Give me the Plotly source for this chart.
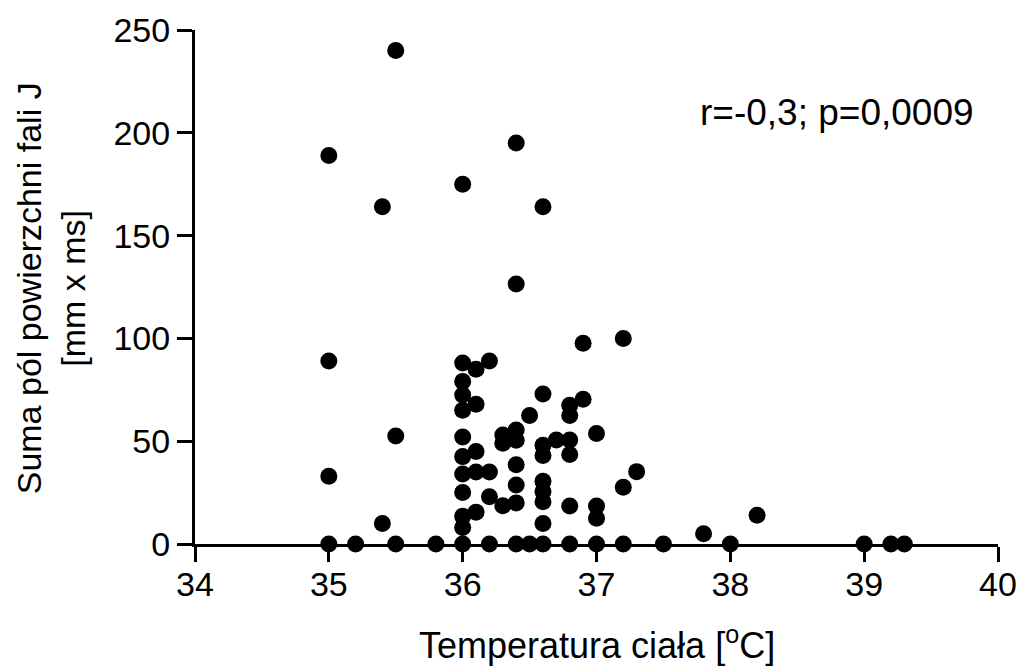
import plotly.graph_objects as go

# Temperature [°C] and sum of J-wave areas [mm x ms]
temp = [
    35.0, 35.0, 35.0, 35.0,
    35.2,
    35.4, 35.4,
    35.5, 35.5, 35.5,
    35.8,
    36.0, 36.0, 36.0, 36.0, 36.0, 36.0, 36.0, 36.0, 36.0, 36.0, 36.0, 36.0,
    36.1, 36.1, 36.1, 36.1, 36.1,
    36.2, 36.2, 36.2, 36.2,
    36.3, 36.3, 36.3,
    36.4, 36.4, 36.4, 36.4, 36.4, 36.4, 36.4, 36.4,
    36.5, 36.5,
    36.6, 36.6, 36.6, 36.6, 36.6, 36.6, 36.6, 36.6, 36.6,
    36.7,
    36.8, 36.8, 36.8, 36.8, 36.8, 36.8,
    36.9, 36.9,
    37.0, 37.0, 37.0, 37.0,
    37.2, 37.2, 37.2,
    37.3,
    37.5,
    37.8,
    38.0,
    38.2,
    39.0,
    39.2,
    39.3,
]
area = [
    189, 89, 33, 0,
    0,
    164, 10,
    240, 52.5, 0,
    0,
    175, 88, 79, 72.5, 65, 52, 42.5, 34, 25, 13.5, 8, 0,
    85, 68, 45, 35, 15.5,
    89, 35, 23, 0,
    53, 49, 18.6,
    195, 126.5, 55.5, 50.5, 38.5, 28.7, 20, 0,
    62.5, 0,
    164, 73, 48, 43, 30.5, 25.5, 20.6, 10, 0,
    50.6,
    67.5, 62.5, 50.6, 43.5, 18.5, 0,
    97.6, 70.4,
    53.8, 18.5, 12.5, 0,
    100, 27.6, 0,
    35.2,
    0,
    5,
    0,
    14,
    0,
    0,
    0,
]

x_ticks = [34, 35, 36, 37, 38, 39, 40]
y_ticks = [0, 50, 100, 150, 200, 250]
stat_text = "r=-0,3; p=0,0009"

FONT = "Arial, Liberation Sans, sans-serif"

fig = go.Figure()
fig.add_trace(go.Scatter(
    x=temp, y=area, mode="markers",
    marker=dict(size=17, color="black", line=dict(width=0)),
    cliponaxis=False, showlegend=False,
))

axis_common = dict(
    showline=True, linecolor="black", linewidth=3,
    ticks="outside", ticklen=15, tickwidth=3, tickcolor="black",
    showgrid=False, zeroline=False, automargin=False,
    tickfont=dict(family=FONT, size=34, color="black"),
)

fig.update_xaxes(range=[34, 40], tickvals=x_ticks, ticklabelstandoff=-7, **axis_common)
fig.update_yaxes(range=[0, 250], tickvals=y_ticks, **axis_common)

fig.add_annotation(
    x=38.8, y=210, xref="x", yref="y", text=stat_text, showarrow=False,
    font=dict(family=FONT, size=37, color="black"),
)
fig.add_annotation(
    x=0.5, y=-0.193, xref="paper", yref="paper",
    text="Temperatura ciała [<sup>o</sup>C]", showarrow=False,
    font=dict(family=FONT, size=36, color="black"), yanchor="middle",
)
fig.add_annotation(
    x=-0.179, y=0.498, xref="paper", yref="paper",
    text="Suma pól powierzchni fali J<br>[mm x ms]", showarrow=False,
    textangle=-90, font=dict(family=FONT, size=34, color="black"),
    xanchor="center", yanchor="middle",
)

fig.update_layout(
    width=1019, height=668,
    margin=dict(l=195, r=21, t=30, b=124, autoexpand=False),
    paper_bgcolor="white", plot_bgcolor="white",
    font=dict(family=FONT, color="black"),
)

fig.write_html("out.html")
